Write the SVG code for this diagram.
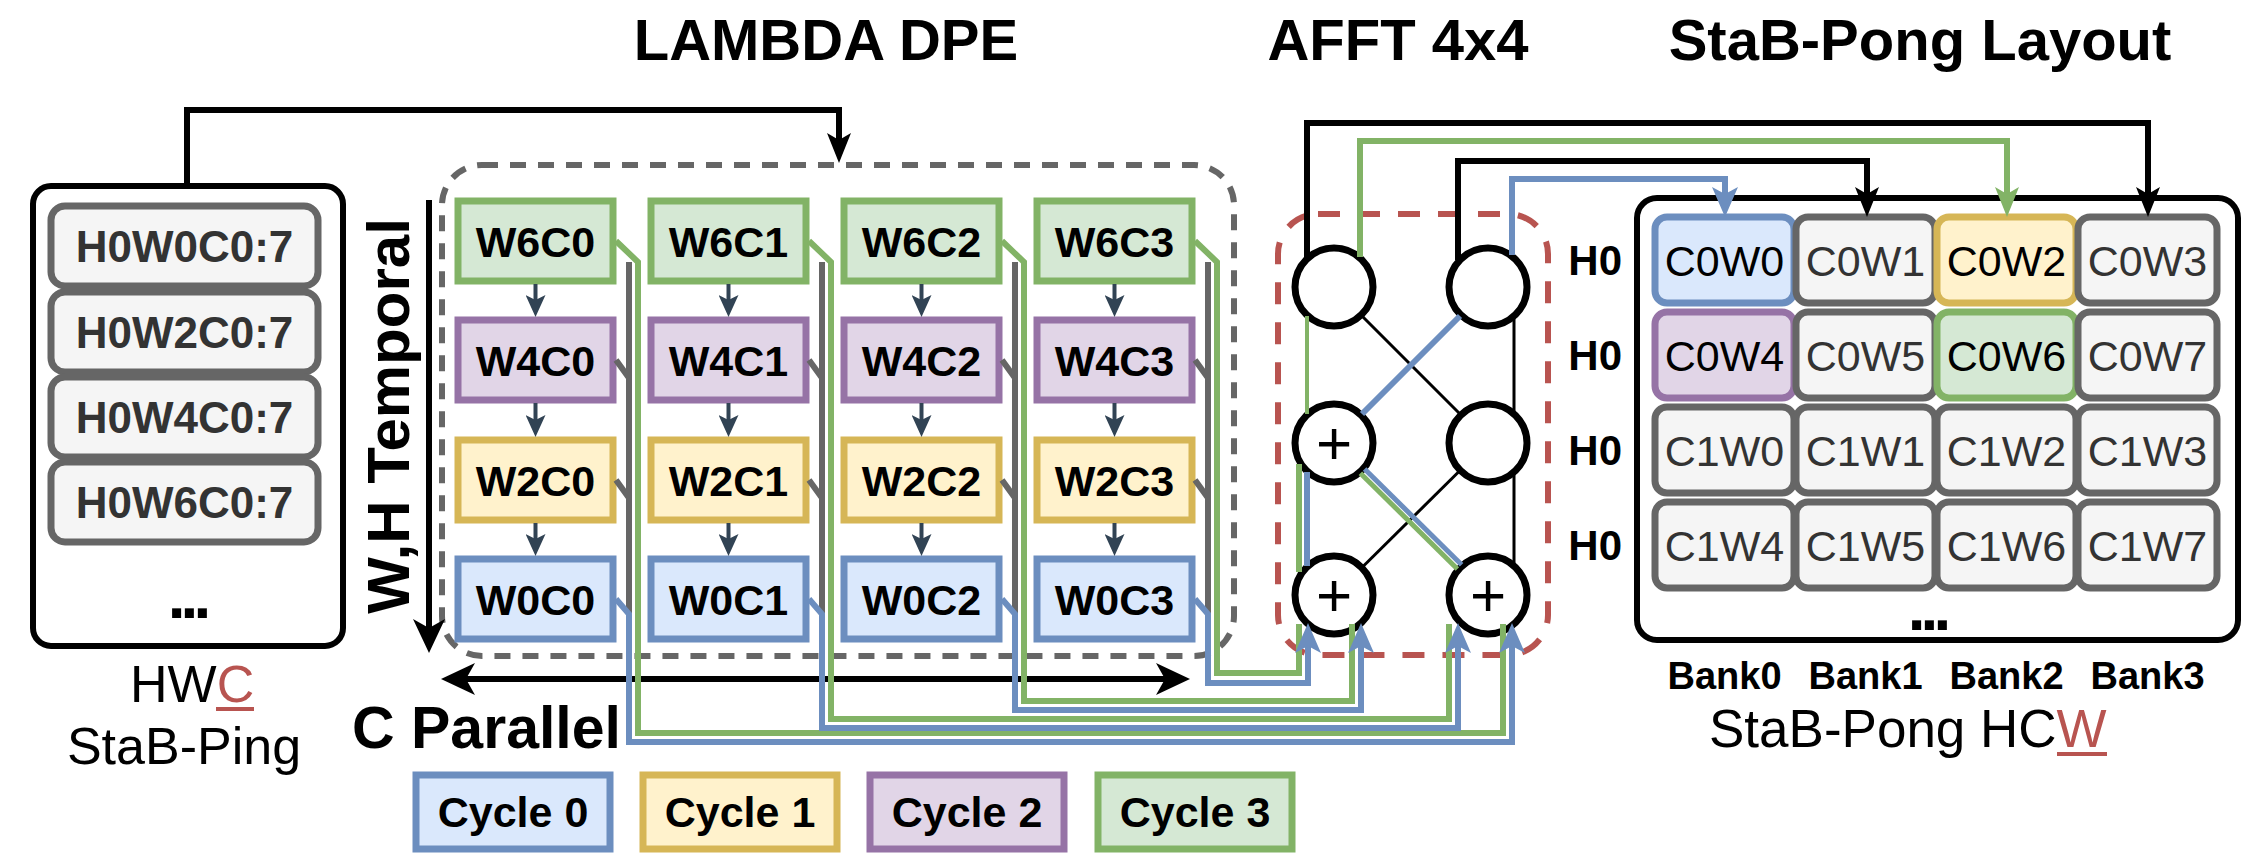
<svg xmlns="http://www.w3.org/2000/svg" width="2244" height="857" viewBox="0 0 2244 857">
<style>
text{font-family:'Liberation Sans',Arial,Helvetica,sans-serif}
.b{font-weight:bold}
.m{text-anchor:middle}
.c{stroke-width:7}
.g{fill:#d5e8d4;stroke:#82b366}
.p{fill:#e1d5e7;stroke:#9673a6}
.y{fill:#fff2cc;stroke:#d6b656}
.u{fill:#dae8fc;stroke:#6c8ebf}
.gr{fill:#f5f5f5;stroke:#666666}
.ct{font-size:43px;font-weight:bold;text-anchor:middle;fill:#000}
.rt{font-size:43px;text-anchor:middle;fill:#333333}
.rtk{font-size:43px;text-anchor:middle;fill:#000}
.lt{font-size:44px;font-weight:bold;text-anchor:middle;fill:#333333}
.title{font-size:58px;font-weight:bold;text-anchor:middle}
.circ{fill:#fff;stroke:#000;stroke-width:7}
.plus{font-size:62px;text-anchor:middle}
.ln{fill:none;stroke-linejoin:miter}
.k{stroke:#000;stroke-width:6}
.kt{stroke:#000;stroke-width:3}
.gl{stroke:#82b366;stroke-width:6}
.bl{stroke:#6c8ebf;stroke-width:6}
.gy{stroke:#666666;stroke-width:6}
.dk{stroke:#314354;stroke-width:4}
</style>
<defs>
<marker id="aBlk" markerUnits="userSpaceOnUse" markerWidth="30" markerHeight="24" viewBox="0 0 30 24" refX="7" refY="12" orient="auto"><path d="M0,0 L30,12 L0,24 L7,12 Z" fill="#000"/></marker>
<marker id="aBlue" markerUnits="userSpaceOnUse" markerWidth="30" markerHeight="26" viewBox="0 0 30 26" refX="7" refY="13" orient="auto"><path d="M0,0 L30,13 L0,26 L7,13 Z" fill="#6c8ebf"/></marker>
<marker id="aGreen" markerUnits="userSpaceOnUse" markerWidth="30" markerHeight="24" viewBox="0 0 30 24" refX="7" refY="12" orient="auto"><path d="M0,0 L30,12 L0,24 L7,12 Z" fill="#82b366"/></marker>
<marker id="aDark" markerUnits="userSpaceOnUse" markerWidth="22" markerHeight="20" viewBox="0 0 22 20" refX="5" refY="10" orient="auto"><path d="M0,0 L22,10 L0,20 L5,10 Z" fill="#314354"/></marker>
<marker id="aBig" markerUnits="userSpaceOnUse" markerWidth="34" markerHeight="32" viewBox="0 0 34 32" refX="9" refY="16" orient="auto-start-reverse"><path d="M0,0 L34,16 L0,32 L9,16 Z" fill="#000"/></marker>
</defs>
<rect width="2244" height="857" fill="#fff"/>

<!-- Titles -->
<text class="title" x="826" y="60">LAMBDA DPE</text>
<text class="title" x="1398" y="60">AFFT 4x4</text>
<text class="title" x="1920" y="60">StaB-Pong Layout</text>

<!-- StaB-Ping buffer -->
<g id="stab-ping">
<rect x="33" y="186" width="310" height="460" rx="18" fill="#fff" stroke="#000" stroke-width="6"/>
<rect class="c gr" x="51" y="206" width="267" height="80" rx="14"/>
<text class="lt" x="184.5" y="261.7">H0W0C0:7</text>
<rect class="c gr" x="51" y="292" width="267" height="80" rx="14"/>
<text class="lt" x="184.5" y="347.7">H0W2C0:7</text>
<rect class="c gr" x="51" y="377" width="267" height="80" rx="14"/>
<text class="lt" x="184.5" y="432.7">H0W4C0:7</text>
<rect class="c gr" x="51" y="462" width="267" height="80" rx="14"/>
<text class="lt" x="184.5" y="517.7">H0W6C0:7</text>
<text class="b m" x="187" y="618" font-size="64" letter-spacing="-5">...</text>
<text x="130" y="702" font-size="52">HW<tspan fill="#b85450">C</tspan></text>
<line x1="216" y1="709" x2="254" y2="709" stroke="#b85450" stroke-width="4"/>
<text class="m" x="184" y="764" font-size="52">StaB-Ping</text>
</g>

<!-- LAMBDA DPE -->
<g id="lambda-dpe">
<rect x="442" y="165" width="792" height="491" rx="40" fill="none" stroke="#666666" stroke-width="6" stroke-dasharray="16 12"/>
<text class="b m" font-size="60" transform="translate(409,416) rotate(-90)">W,H Temporal</text>
<text class="b" x="352" y="748" font-size="59">C Parallel</text>
</g>

<g id="W6C0"><rect class="c g" x="458" y="201" width="155" height="80"/><text class="ct" x="535.5" y="256.5">W6C0</text></g>
<g id="W6C1"><rect class="c g" x="651" y="201" width="155" height="80"/><text class="ct" x="728.5" y="256.5">W6C1</text></g>
<g id="W6C2"><rect class="c g" x="844" y="201" width="155" height="80"/><text class="ct" x="921.5" y="256.5">W6C2</text></g>
<g id="W6C3"><rect class="c g" x="1037" y="201" width="155" height="80"/><text class="ct" x="1114.5" y="256.5">W6C3</text></g>
<g id="W4C0"><rect class="c p" x="458" y="320" width="155" height="80"/><text class="ct" x="535.5" y="375.5">W4C0</text></g>
<g id="W4C1"><rect class="c p" x="651" y="320" width="155" height="80"/><text class="ct" x="728.5" y="375.5">W4C1</text></g>
<g id="W4C2"><rect class="c p" x="844" y="320" width="155" height="80"/><text class="ct" x="921.5" y="375.5">W4C2</text></g>
<g id="W4C3"><rect class="c p" x="1037" y="320" width="155" height="80"/><text class="ct" x="1114.5" y="375.5">W4C3</text></g>
<g id="W2C0"><rect class="c y" x="458" y="440" width="155" height="80"/><text class="ct" x="535.5" y="495.5">W2C0</text></g>
<g id="W2C1"><rect class="c y" x="651" y="440" width="155" height="80"/><text class="ct" x="728.5" y="495.5">W2C1</text></g>
<g id="W2C2"><rect class="c y" x="844" y="440" width="155" height="80"/><text class="ct" x="921.5" y="495.5">W2C2</text></g>
<g id="W2C3"><rect class="c y" x="1037" y="440" width="155" height="80"/><text class="ct" x="1114.5" y="495.5">W2C3</text></g>
<g id="W0C0"><rect class="c u" x="458" y="559" width="155" height="80"/><text class="ct" x="535.5" y="614.5">W0C0</text></g>
<g id="W0C1"><rect class="c u" x="651" y="559" width="155" height="80"/><text class="ct" x="728.5" y="614.5">W0C1</text></g>
<g id="W0C2"><rect class="c u" x="844" y="559" width="155" height="80"/><text class="ct" x="921.5" y="614.5">W0C2</text></g>
<g id="W0C3"><rect class="c u" x="1037" y="559" width="155" height="80"/><text class="ct" x="1114.5" y="614.5">W0C3</text></g>

<!-- AFFT -->
<g id="afft">
<rect x="1278" y="214" width="270" height="441" rx="40" fill="none" stroke="#b85450" stroke-width="6" stroke-dasharray="22 18"/>
<circle class="circ" cx="1334" cy="287" r="39"/>
<circle class="circ" cx="1488" cy="287" r="39"/>
<circle class="circ" cx="1334" cy="443" r="39"/>
<circle class="circ" cx="1488" cy="443" r="39"/>
<circle class="circ" cx="1334" cy="595" r="39"/>
<circle class="circ" cx="1488" cy="595" r="39"/>
<text class="plus" x="1334" y="464">+</text>
<text class="plus" x="1334" y="616">+</text>
<text class="plus" x="1488" y="616">+</text>
</g>

<!-- StaB-Pong -->
<g id="stab-pong">
<rect x="1637" y="198" width="601" height="442" rx="20" fill="#fff" stroke="#000" stroke-width="6"/>
<text class="b" x="1622" y="275" font-size="42" text-anchor="end">H0</text>
<text class="b" x="1622" y="370" font-size="42" text-anchor="end">H0</text>
<text class="b" x="1622" y="465" font-size="42" text-anchor="end">H0</text>
<text class="b" x="1622" y="560" font-size="42" text-anchor="end">H0</text>
<g id="C0W0"><rect class="c u" x="1655" y="217" width="139" height="86" rx="12"/><text class="rtk" x="1724.5" y="275.5">C0W0</text></g>
<g id="C0W1"><rect class="c gr" x="1796" y="217" width="139" height="86" rx="12"/><text class="rt" x="1865.5" y="275.5">C0W1</text></g>
<g id="C0W2"><rect class="c y" x="1937" y="217" width="139" height="86" rx="12"/><text class="rtk" x="2006.5" y="275.5">C0W2</text></g>
<g id="C0W3"><rect class="c gr" x="2078" y="217" width="139" height="86" rx="12"/><text class="rt" x="2147.5" y="275.5">C0W3</text></g>
<g id="C0W4"><rect class="c p" x="1655" y="312" width="139" height="86" rx="12"/><text class="rtk" x="1724.5" y="370.5">C0W4</text></g>
<g id="C0W5"><rect class="c gr" x="1796" y="312" width="139" height="86" rx="12"/><text class="rt" x="1865.5" y="370.5">C0W5</text></g>
<g id="C0W6"><rect class="c g" x="1937" y="312" width="139" height="86" rx="12"/><text class="rtk" x="2006.5" y="370.5">C0W6</text></g>
<g id="C0W7"><rect class="c gr" x="2078" y="312" width="139" height="86" rx="12"/><text class="rt" x="2147.5" y="370.5">C0W7</text></g>
<g id="C1W0"><rect class="c gr" x="1655" y="407" width="139" height="86" rx="12"/><text class="rt" x="1724.5" y="465.5">C1W0</text></g>
<g id="C1W1"><rect class="c gr" x="1796" y="407" width="139" height="86" rx="12"/><text class="rt" x="1865.5" y="465.5">C1W1</text></g>
<g id="C1W2"><rect class="c gr" x="1937" y="407" width="139" height="86" rx="12"/><text class="rt" x="2006.5" y="465.5">C1W2</text></g>
<g id="C1W3"><rect class="c gr" x="2078" y="407" width="139" height="86" rx="12"/><text class="rt" x="2147.5" y="465.5">C1W3</text></g>
<g id="C1W4"><rect class="c gr" x="1655" y="502" width="139" height="86" rx="12"/><text class="rt" x="1724.5" y="560.5">C1W4</text></g>
<g id="C1W5"><rect class="c gr" x="1796" y="502" width="139" height="86" rx="12"/><text class="rt" x="1865.5" y="560.5">C1W5</text></g>
<g id="C1W6"><rect class="c gr" x="1937" y="502" width="139" height="86" rx="12"/><text class="rt" x="2006.5" y="560.5">C1W6</text></g>
<g id="C1W7"><rect class="c gr" x="2078" y="502" width="139" height="86" rx="12"/><text class="rt" x="2147.5" y="560.5">C1W7</text></g>
<text class="b m" x="1927" y="630" font-size="64" letter-spacing="-5">...</text>
<text class="b m" x="1724.5" y="689" font-size="38">Bank0</text>
<text class="b m" x="1865.5" y="689" font-size="38">Bank1</text>
<text class="b m" x="2006.5" y="689" font-size="38">Bank2</text>
<text class="b m" x="2147.5" y="689" font-size="38">Bank3</text>
<text x="1709" y="747" font-size="53">StaB-Pong HC<tspan fill="#b85450">W</tspan></text>
<line x1="2057" y1="754" x2="2107" y2="754" stroke="#b85450" stroke-width="4"/>
</g>

<!-- Legend -->
<g id="legend-cycle0"><rect class="c u" x="416" y="775" width="194" height="74"/><text class="ct" x="513" y="827">Cycle 0</text></g>
<g id="legend-cycle1"><rect class="c y" x="643" y="775" width="194" height="74"/><text class="ct" x="740" y="827">Cycle 1</text></g>
<g id="legend-cycle2"><rect class="c p" x="870" y="775" width="194" height="74"/><text class="ct" x="967" y="827">Cycle 2</text></g>
<g id="legend-cycle3"><rect class="c g" x="1098" y="775" width="194" height="74"/><text class="ct" x="1195" y="827">Cycle 3</text></g>

<!-- Connectors -->
<g id="connectors" class="ln">
<path class="k" d="M187,186 V110 H839 V140" marker-end="url(#aBlk)"/>
<path class="k" d="M429,200 V628" marker-end="url(#aBig)"/>
<path class="k" d="M466,679 H1165" marker-start="url(#aBig)" marker-end="url(#aBig)"/>

<!-- column arrows -->
<path class="dk" d="M535.5,284 V300" marker-end="url(#aDark)"/>
<path class="dk" d="M535.5,403 V420" marker-end="url(#aDark)"/>
<path class="dk" d="M535.5,523 V539" marker-end="url(#aDark)"/>
<path class="dk" d="M728.5,284 V300" marker-end="url(#aDark)"/>
<path class="dk" d="M728.5,403 V420" marker-end="url(#aDark)"/>
<path class="dk" d="M728.5,523 V539" marker-end="url(#aDark)"/>
<path class="dk" d="M921.5,284 V300" marker-end="url(#aDark)"/>
<path class="dk" d="M921.5,403 V420" marker-end="url(#aDark)"/>
<path class="dk" d="M921.5,523 V539" marker-end="url(#aDark)"/>
<path class="dk" d="M1114.5,284 V300" marker-end="url(#aDark)"/>
<path class="dk" d="M1114.5,403 V420" marker-end="url(#aDark)"/>
<path class="dk" d="M1114.5,523 V539" marker-end="url(#aDark)"/>

<!-- gray accumulation lines -->
<path class="gy" d="M616,360 L629,378 M616,480 L629,498 M629,262 V614"/>
<path class="gy" d="M809,360 L822,378 M809,480 L822,498 M822,262 V614"/>
<path class="gy" d="M1002,360 L1015,378 M1002,480 L1015,498 M1015,262 V614"/>
<path class="gy" d="M1195,360 L1208,378 M1195,480 L1208,498 M1208,262 V614"/>

<!-- green routes (W6 row) -->
<path class="gl" d="M616,241 L638,262 V733 H1503 V624"/>
<path class="gl" d="M809,241 L831,262 V719 H1449 V624"/>
<path class="gl" d="M1002,241 L1024,262 V701 H1352 V624"/>
<path class="gl" d="M1195,241 L1217,262 V673 H1299 V624"/>

<!-- blue routes (W0 row) -->
<path class="bl" d="M616,599 L629,614 V742 H1512 V646" marker-end="url(#aBlue)"/>
<path class="bl" d="M809,599 L822,614 V728 H1458 V646" marker-end="url(#aBlue)"/>
<path class="bl" d="M1002,599 L1015,614 V710 H1361 V646" marker-end="url(#aBlue)"/>
<path class="bl" d="M1195,599 L1208,614 V683 H1308 V646" marker-end="url(#aBlue)"/>

<!-- AFFT butterfly -->
<path class="kt" d="M1362,316 L1460,414"/>
<path class="bl" d="M1460,316 L1362,414"/>
<path class="kt" d="M1459.5,471 L1362.5,567"/>
<path class="gl" style="stroke-width:5" d="M1360.4,473.2 L1457.4,569"/>
<path class="bl" style="stroke-width:5" d="M1364.6,469 L1461.6,564.8"/>
<path class="gl" style="stroke-width:4" d="M1307,316 V414"/>
<path class="kt" d="M1514,317 V413 M1514,473 V565"/>
<path class="gl" d="M1299,464 V572"/>
<path class="bl" d="M1307,472 V566"/>

<!-- AFFT outputs to StaB-Pong banks -->
<path class="k" d="M1307,258 V123 H2148 V194" marker-end="url(#aBlk)"/>
<path class="gl" d="M1360,257 V141 H2007 V194" marker-end="url(#aGreen)"/>
<path class="k" d="M1458,260 V161 H1867 V194" marker-end="url(#aBlk)"/>
<path class="bl" d="M1512,255 V179 H1725 V194" marker-end="url(#aBlue)"/>
</g>
</svg>
